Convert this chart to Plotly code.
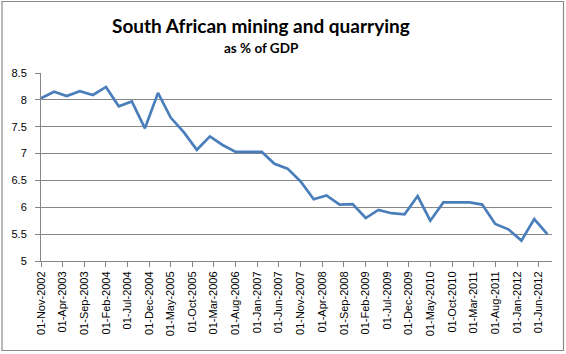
import pandas as pd
import plotly.graph_objects as go

# Quarterly observations, Nov 2002 .. Aug 2012
dates = pd.date_range("2002-11-01", periods=40, freq="3MS")
values = [8.03, 8.15, 8.07, 8.16, 8.09, 8.24, 7.88, 7.97, 7.47, 8.13,
          7.67, 7.40, 7.07, 7.32, 7.16, 7.03, 7.03, 7.03, 6.81, 6.72,
          6.48, 6.15, 6.22, 6.05, 6.06, 5.80, 5.95, 5.89, 5.87, 6.21,
          5.75, 6.09, 6.09, 6.09, 6.05, 5.69, 5.59, 5.38, 5.78, 5.50]

tick_dates = ["2002-11-01", "2003-04-01", "2003-09-01", "2004-02-01", "2004-07-01",
              "2004-12-01", "2005-05-01", "2005-10-01", "2006-03-01", "2006-08-01",
              "2007-01-01", "2007-06-01", "2007-11-01", "2008-04-01", "2008-09-01",
              "2009-02-01", "2009-07-01", "2009-12-01", "2010-05-01", "2010-10-01",
              "2011-03-01", "2011-08-01", "2012-01-01", "2012-06-01"]
tick_labels = ["01-Nov-2002", "01-Apr-2003", "01-Sep-2003", "01-Feb-2004", "01-Jul-2004",
               "01-Dec-2004", "01-May-2005", "01-Oct-2005", "01-Mar-2006", "01-Aug-2006",
               "01-Jan-2007", "01-Jun-2007", "01-Nov-2007", "01-Apr-2008", "01-Sep-2008",
               "01-Feb-2009", "01-Jul-2009", "01-Dec-2009", "01-May-2010", "01-Oct-2010",
               "01-Mar-2011", "01-Aug-2011", "01-Jan-2012", "01-Jun-2012"]
y_ticks = [5, 5.5, 6, 6.5, 7, 7.5, 8, 8.5]
y_labels = ["5", "5.5", "6", "6.5", "7", "7.5", "8", "8.5"]

title = "South African mining and quarrying"
subtitle = "as % of GDP"

W, H = 566, 354
L, R, T, B = 41, 14, 73, 93

fig = go.Figure()
fig.add_trace(go.Scatter(x=dates, y=values, mode="lines",
                         line=dict(color="#4A7EBB", width=2.7),
                         hoverinfo="skip", showlegend=False))

grid = "#878787"
fig.update_xaxes(type="date", range=["2002-11-01", "2012-09-03"],
                 tickvals=tick_dates, ticktext=tick_labels, tickangle=-90,
                 showgrid=False, showline=True, linecolor=grid, linewidth=1,
                 ticks="outside", ticklen=5, tickcolor=grid,
                 tickfont=dict(family="Liberation Sans, Arial", size=11, color="#000"),
                 zeroline=False)
fig.update_yaxes(range=[5, 8.5], tickvals=y_ticks, ticktext=y_labels,
                 showgrid=True, gridcolor=grid, gridwidth=1,
                 showline=True, linecolor=grid, linewidth=1,
                 ticks="outside", ticklen=5, tickcolor=grid, ticklabelstandoff=6,
                 tickfont=dict(family="Liberation Sans, Arial", size=11, color="#000"),
                 zeroline=False)

pw = W - L - R
ph = H - T - B
def px2paper_x(px):
    return (px - L) / pw
def px2paper_y(py):
    return (H - B - py) / ph

fig.add_shape(type="rect", xref="paper", yref="paper",
              x0=px2paper_x(2), x1=px2paper_x(563.5), y0=px2paper_y(350.5), y1=px2paper_y(1.5),
              line=dict(color="#8a8a8a", width=1.2), layer="below")

fig.add_annotation(text=title, xref="paper", yref="paper",
                   x=px2paper_x(261), y=px2paper_y(25), xanchor="center", yanchor="middle",
                   showarrow=False,
                   font=dict(family="Lato", size=19, color="#000", weight=700))
fig.add_annotation(text=subtitle, xref="paper", yref="paper",
                   x=px2paper_x(261), y=px2paper_y(48), xanchor="center", yanchor="middle",
                   showarrow=False,
                   font=dict(family="Lato", size=13.5, color="#000", weight=700))

fig.update_layout(width=W, height=H, margin=dict(l=L, r=R, t=T, b=B),
                  paper_bgcolor="white", plot_bgcolor="white")

fig.write_html("out.html")
